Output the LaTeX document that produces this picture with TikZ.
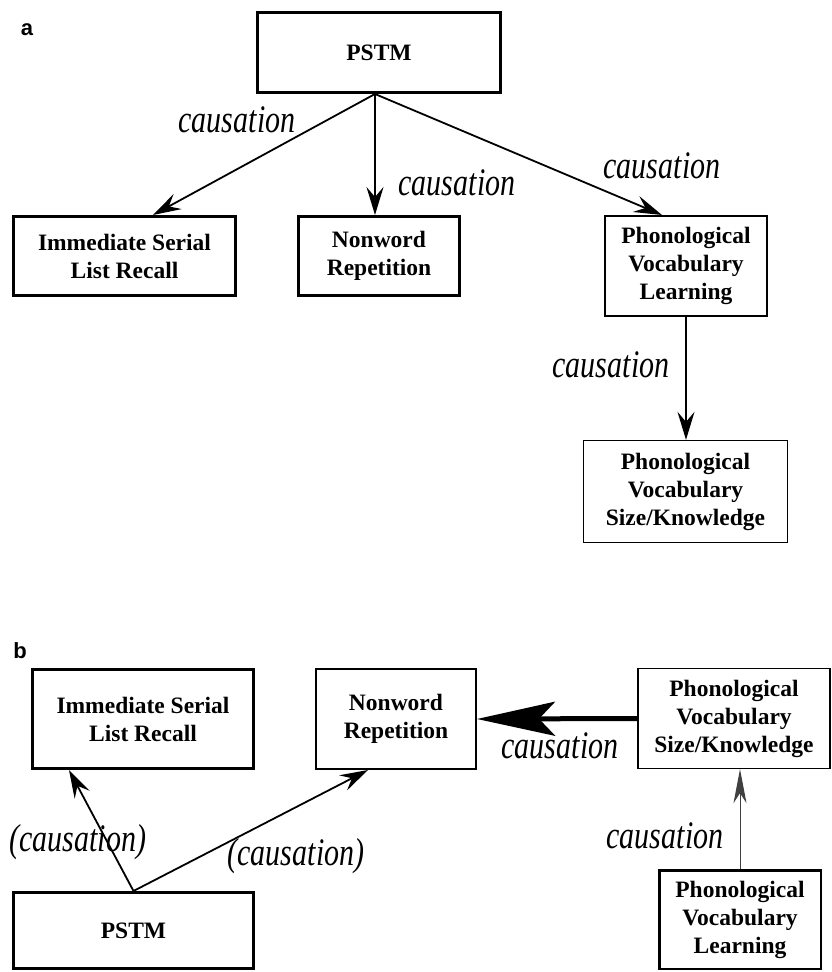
\documentclass[tikz,border=0pt]{standalone}
\usepackage{fontspec}
\usepackage{graphicx}
\setmainfont{Liberation Serif}
\newfontfamily\panelfont{Liberation Sans}
\usetikzlibrary{arrows.meta}
\tikzset{
  box/.style={draw, rectangle, inner sep=0pt, align=center,
    font=\bfseries\fontsize{23.5}{28}\selectfont},
  thick3/.style={line width=3pt},
  thick2/.style={line width=2pt},
  thin1/.style={line width=1.3pt},
  lab/.style={inner sep=0pt, font=\itshape\fontsize{30}{30}\selectfont},
  panel/.style={inner sep=0pt, font=\panelfont\bfseries\fontsize{22}{22}\selectfont},
  conn/.style={line width=1.8pt, -{Stealth[length=28pt,width=17pt,inset=10pt]}},
  bigconn/.style={line width=5pt, -{Stealth[length=78pt,width=34pt,inset=16pt]}},
  fineconn/.style={line width=1pt, draw=black!75, -{Stealth[length=34pt,width=13pt,inset=10pt]}},
}
\newcommand{\tall}[1]{\scalebox{1}[1.3]{#1}}
\begin{document}
\begin{tikzpicture}[x=1pt,y=-1pt]
\useasboundingbox (0,0) rectangle (832,972);
% ---------- panel a ----------
\node[panel] (pa) at (27,30) {a};
\node[box,thick3,minimum width=243pt,minimum height=80pt] (pstma) at (379,52.5) {PSTM};
\node[box,thick3,minimum width=222pt,minimum height=79pt] (islra) at (124.5,256) {Immediate Serial\\List Recall};
\node[box,thick3,minimum width=161pt,minimum height=79pt] (nwa) at (379,256) {Nonword\\Repetition};
\node[box,thick2,minimum width=162pt,minimum height=100pt] (pvla) at (686,266) {Phonological\\Vocabulary\\Learning};
\node[box,thin1,minimum width=204pt,minimum height=102pt] (pvska) at (685.5,491.5) {Phonological\\Vocabulary\\Size/Knowledge};

\draw[conn] ([xshift=-4pt]pstma.south) -- ([xshift=28.5pt]islra.north);
\draw[conn] ([xshift=-4pt]pstma.south) -- ([xshift=-4pt]nwa.north);
\draw[conn] ([xshift=-4pt]pstma.south) -- ([xshift=-24pt]pvla.north);
\draw[conn] (pvla.south) -- (pvla.south |- pvska.north);

\node[lab] (la1) at (237,120) {\tall{causation}};
\node[lab] (la2) at (457,183) {\tall{causation}};
\node[lab] (la3) at (662,166) {\tall{causation}};
\node[lab] (la4) at (611,365) {\tall{causation}};

% ---------- panel b ----------
\node[panel] (pb) at (20,651) {b};
\node[box,thick3,minimum width=221pt,minimum height=99pt] (islrb) at (143,719) {Immediate Serial\\List Recall};
\node[box,thick2,minimum width=160pt,minimum height=100pt] (nwb) at (396,719) {Nonword\\Repetition};
\node[box,thin1,minimum width=192pt,minimum height=100pt] (pvskb) at (734,718.5) {Phonological\\Vocabulary\\Size/Knowledge};
\node[box,thick3,minimum width=240pt,minimum height=76pt] (pstmb) at (133.5,930.5) {PSTM};
\node[box,line width=2.5pt,minimum width=161.5pt,minimum height=98.5pt] (pvlb) at (740,919.5) {Phonological\\Vocabulary\\Learning};

\draw[conn] (pstmb.north) -- ([xshift=-74pt]islrb.south);
\draw[conn] (pstmb.north) -- ([xshift=-28pt]nwb.south);
\draw[bigconn] (pvskb.west) -- (nwb.east);
\draw[fineconn] (pvlb.north) -- (pvlb.north |- pvskb.south);

\node[lab] (lb1) at (78,842) {\tall{(causation)}};
\node[lab] (lb2) at (296,856) {\tall{(causation)}};
\node[lab] (lb3) at (560,746) {\tall{causation}};
\node[lab] (lb4) at (665,836) {\tall{causation}};
\end{tikzpicture}
\end{document}
